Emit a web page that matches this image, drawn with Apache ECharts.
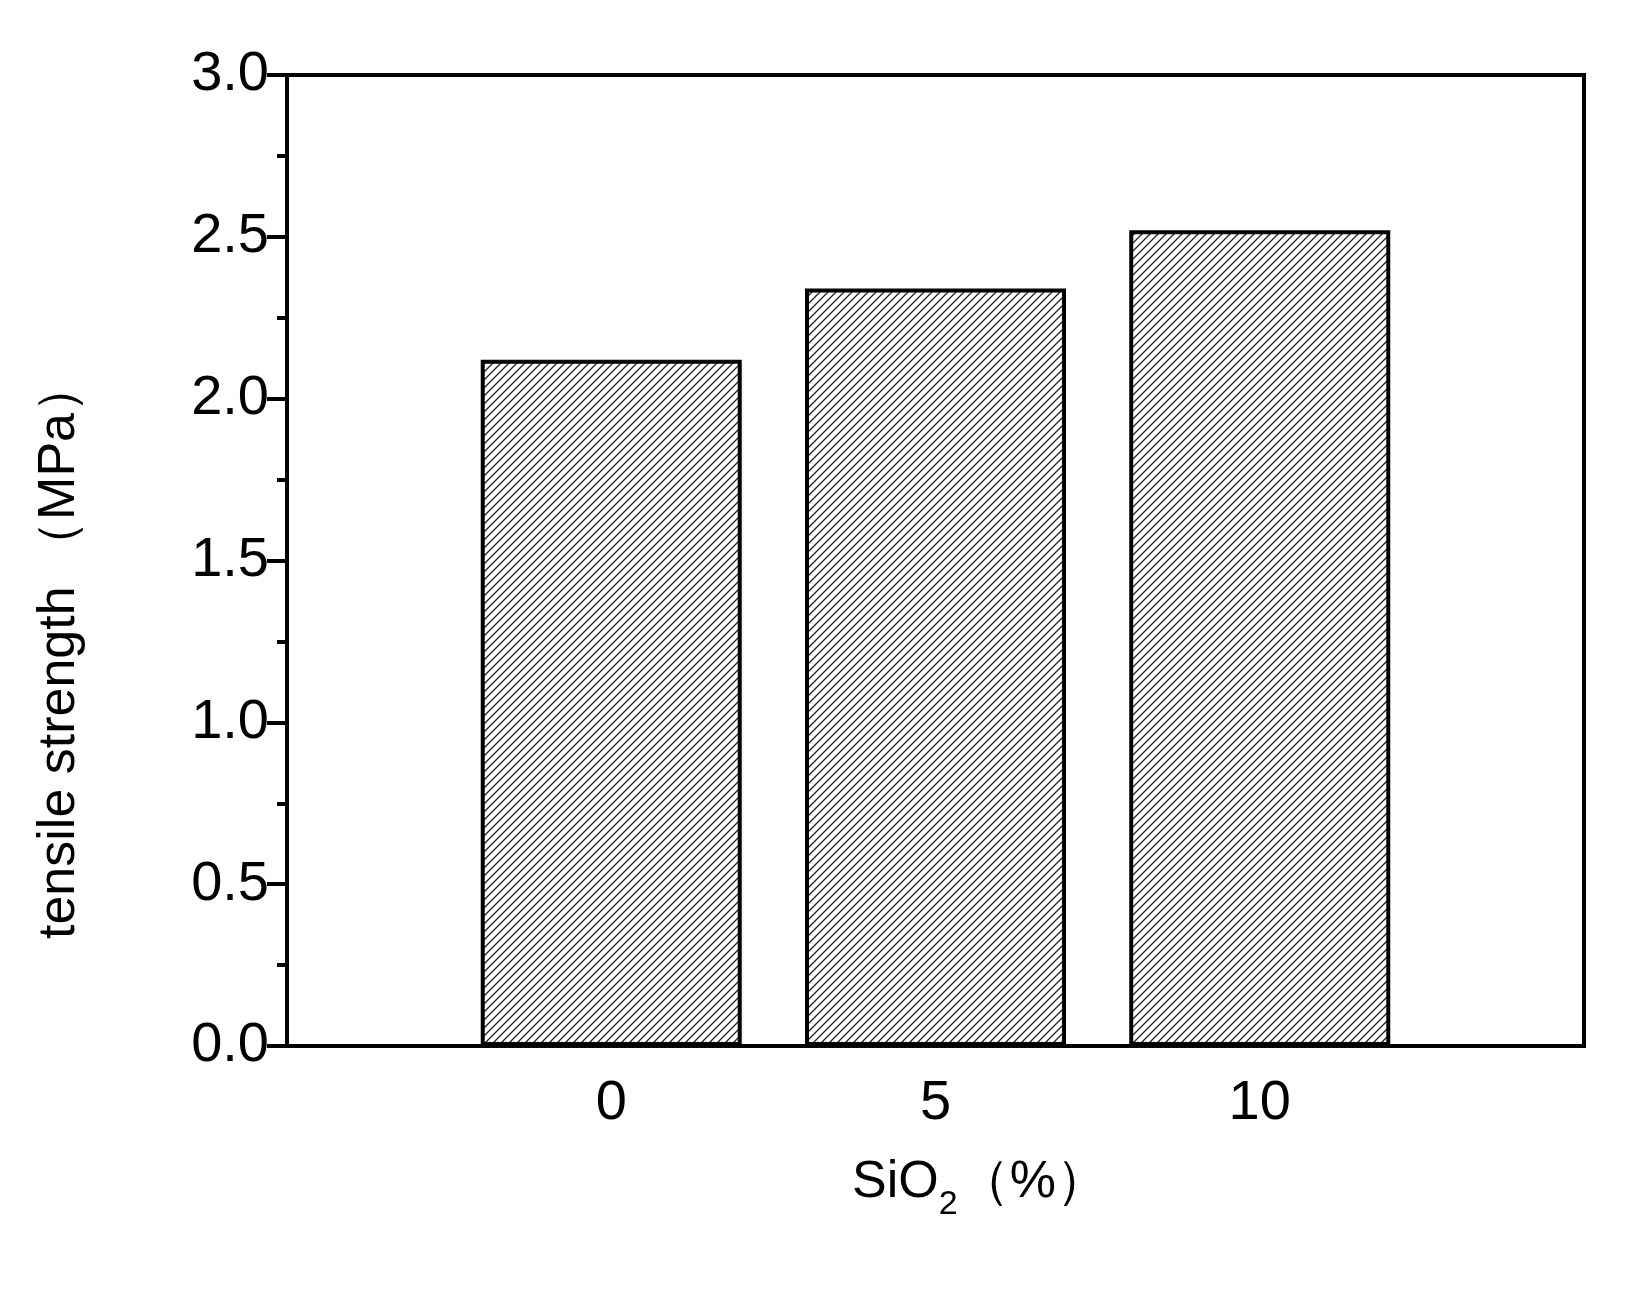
<!DOCTYPE html>
<html><head><meta charset="utf-8">
<script src="https://cdn.jsdelivr.net/npm/echarts@6/dist/echarts.min.js"></script>
<style>body{margin:0;background:#fff}#c{width:1626px;height:1299px}</style>
</head><body><div id="c"></div>
<script>
const categories = ['', '0', '5', '10', ''];
const values = [null, 2.12, 2.34, 2.52, null];
const yTicks = [0, 0.5, 1.0, 1.5, 2.0, 2.5, 3.0];

const cv = document.createElement('canvas');
cv.width = 8; cv.height = 8;
const g = cv.getContext('2d');
g.fillStyle = '#fff'; g.fillRect(0,0,8,8);
g.strokeStyle = '#222'; g.lineWidth = 1.3;
g.beginPath();
g.moveTo(-1,9); g.lineTo(9,-1);
g.moveTo(-1,1); g.lineTo(1,-1);
g.moveTo(7,9); g.lineTo(9,7);
g.stroke();

const font = 'Liberation Sans, Arial, sans-serif';
const chart = echarts.init(document.getElementById('c'));
chart.setOption({
  animation:false,
  grid:{left:287,right:34+8,top:75,bottom:253,show:true,borderColor:'#000',borderWidth:4},
  xAxis:{type:'category',data:categories,boundaryGap:false,
    axisLine:{lineStyle:{color:'#000',width:4}},axisTick:{show:false},
    axisLabel:{fontSize:56,color:'#000',margin:30,fontFamily:font},
    splitLine:{show:false}},
  yAxis:{type:'value',min:0,max:3,interval:0.5,
    axisLine:{show:true,lineStyle:{color:'#000',width:4}},
    axisTick:{show:true,length:20,lineStyle:{width:4}},
    minorTick:{show:true,splitNumber:2,length:10,lineStyle:{color:'#000',width:4}},
    axisLabel:{fontSize:56,color:'#000',margin:18,fontFamily:font,formatter:v=>yTicks.includes(v)?v.toFixed(1):''},
    splitLine:{show:false}},
  graphic:[
    {type:'text',x:60,y:650,rotation:Math.PI/2,
      style:{text:'tensile strength （MPa）',font:'52px '+font,fill:'#000',align:'center',verticalAlign:'middle'}},
    {type:'text',x:980,y:1183,
      style:{text:'{a|SiO}{s|2}{a|（%）}',align:'center',verticalAlign:'middle',
        rich:{a:{fontSize:52,fill:'#000',fontFamily:font},s:{fontSize:34,fill:'#000',fontFamily:font,padding:[44,0,0,0]}}}}
  ],
  series:[{type:'bar',data:values,barWidth:261,
    itemStyle:{color:{image:cv,repeat:'repeat'},borderColor:'#000',borderWidth:4}}]
});
</script></body></html>
